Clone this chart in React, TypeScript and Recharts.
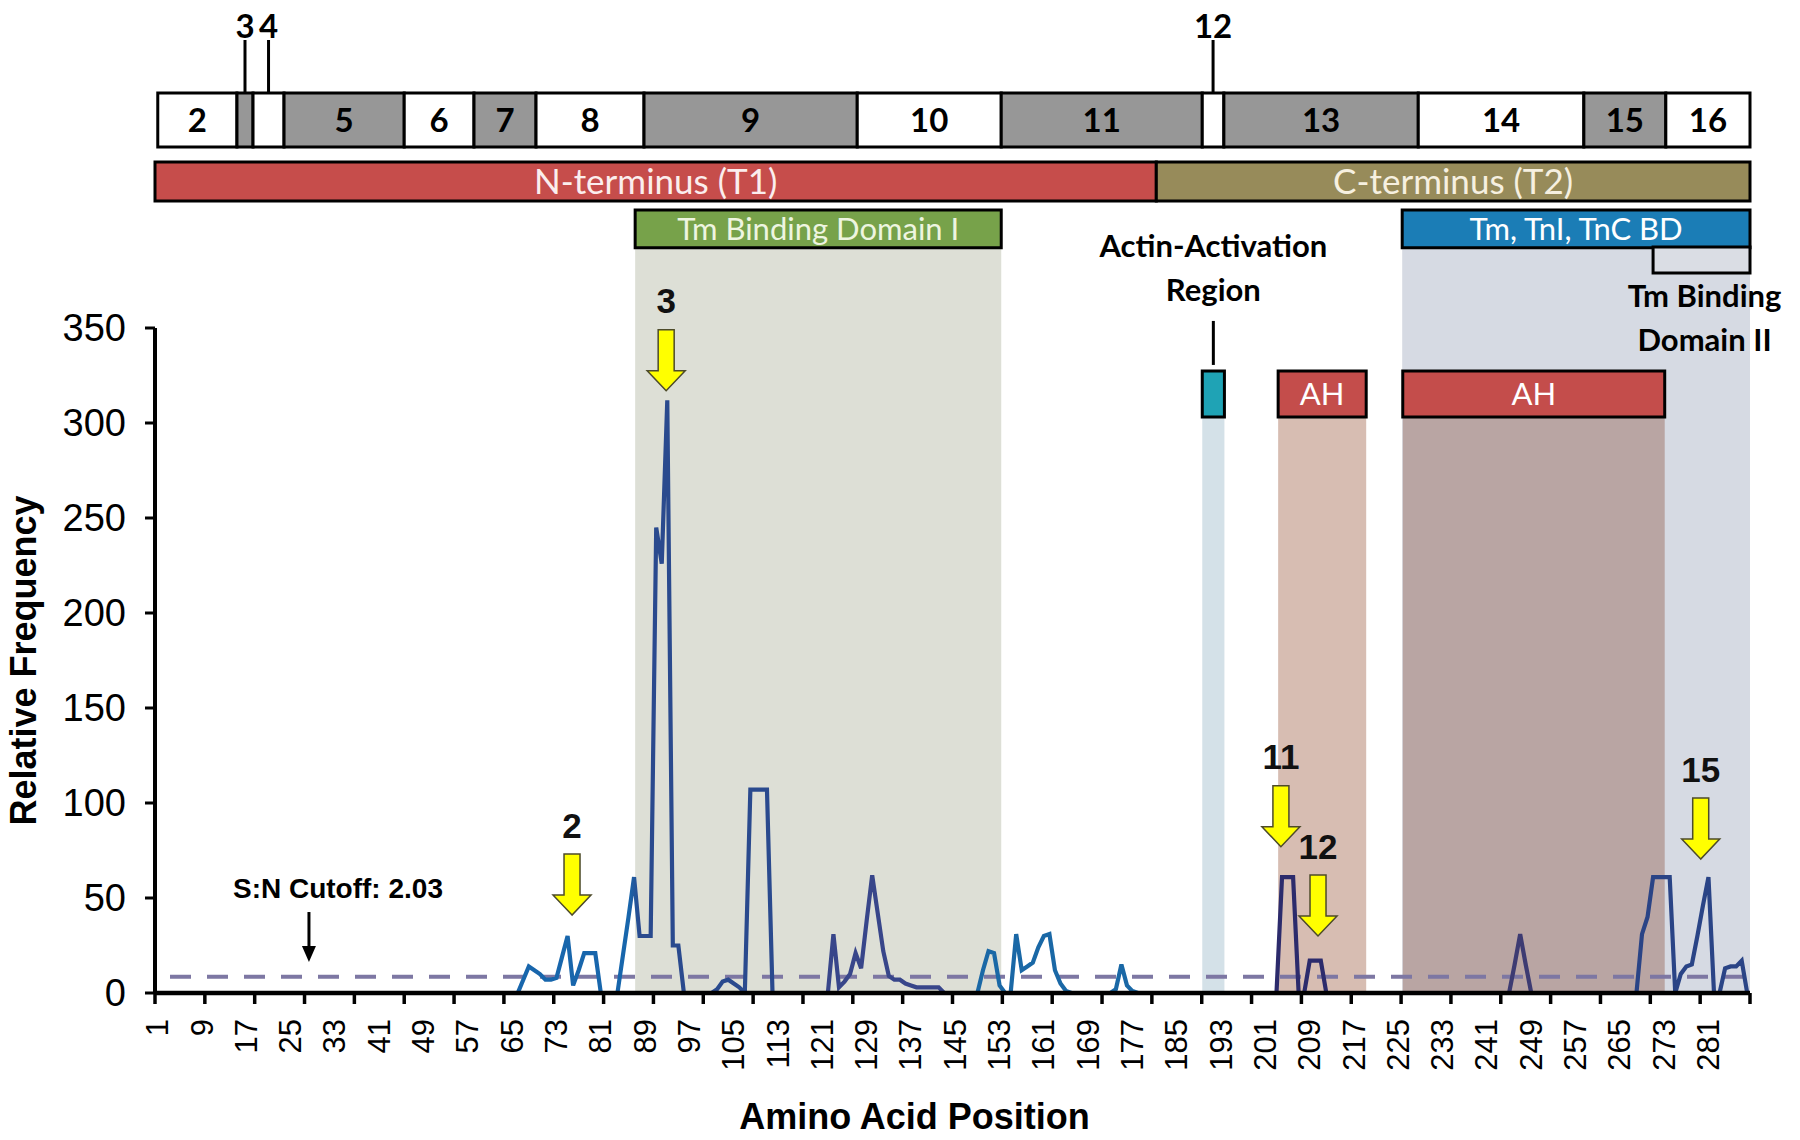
import React from 'react';
import { LineChart, Line, XAxis, YAxis, ReferenceArea, ReferenceLine, ReferenceDot } from 'recharts';

// residue positions 1..288 (x categories)
const positions = Array.from({ length: 288 }, (_, k) => k + 1);

// non-zero stretches of the trace: first residue and the values
const runStarts = [66, 84, 101, 122, 149, 173, 203, 245, 268];
const runValues = [
  [0, 7, 14, 12, 10, 7, 7, 8, 19, 30, 4, 12, 21, 21, 21, 0],
  [0, 20, 40, 61, 30, 30, 30, 245, 226, 312, 25, 25, 0],
  [0, 2, 6, 7, 5, 3, 0, 107, 107, 107, 107, 0],
  [0, 31, 3, 6, 10, 21, 13, 38, 62, 42, 22, 9, 7, 7, 5, 4, 3, 3, 3, 3, 3, 0],
  [0, 12, 22, 21, 4, 0, 0, 31, 12, 14, 16, 24, 30, 31, 12, 5, 1, 0],
  [0, 2, 15, 4, 1, 0],
  [0, 61, 61, 61, 0, 0, 17, 17, 17, 0],
  [0, 15, 31, 15, 0],
  [0, 31, 40, 61, 61, 61, 61, 0, 10, 14, 15, 30, 46, 61, 0, 0, 13, 14, 14, 17, 0],
];

const xTickLabels = [1, 9, 17, 25, 33, 41, 49, 57, 65, 73, 81, 89, 97, 105, 113, 121, 129, 137, 145, 153,
  161, 169, 177, 185, 193, 201, 209, 217, 225, 233, 241, 249, 257, 265, 273, 281];
const yTicks = [0, 50, 100, 150, 200, 250, 300, 350];
const cutoffValue = 8.6;

// exon map (residue ranges)
const exonNames = ['2', '3', '4', '5', '6', '7', '8', '9', '10', '11', '12', '13', '14', '15', '16'];
const exonFrom = [1, 15.3, 18.2, 23.8, 45.5, 58.1, 69.3, 88.8, 127.3, 153.3, 189.6, 193.5, 228.6, 258.5, 273.3];
const exonTo = [15.3, 18.2, 23.8, 45.5, 58.1, 69.3, 88.8, 127.3, 153.3, 189.6, 193.5, 228.6, 258.5, 273.3, 288.5];
const exonGrey = [false, true, false, true, false, true, false, true, false, true, false, true, false, true, false];
const exonCallouts = ['3', '4', '12'];

const terminusNames = ['N-terminus (T1)', 'C-terminus (T2)'];
const terminusFrom = [0.5, 181.3];
const terminusTo = [181.3, 288.5];

const domainNames = ['Tm Binding Domain I', 'Tm, TnI, TnC BD'];
const domainFrom = [87.2, 225.7];
const domainTo = [153.3, 288.5];

const tbd2Range = [271, 288.5];
const actinRange = [189.6, 193.6];
const helixFrom = [203.3, 225.8];
const helixTo = [219.2, 273.1];

const hotspotNames = ['2', '3', '11', '12', '15'];
const hotspotResidue = [75.8, 92.8, 203.8, 210.5, 279.6];
const hotspotTip = [41, 317, 77, 30, 70.5];

const cutoffArrow = { residue: 28.3, tip: 16.3 };

// trace colour changes along the sequence
const traceColourAt = [1, 86, 88, 118, 120, 146, 147, 188, 200, 232, 240, 256, 264, 288];
const traceColours = ['#1866ac', '#1866ac', '#2a4a8e', '#2a4a8e', '#38468a', '#38468a', '#1a68a6', '#1a68a6',
  '#2c2b6c', '#2c2b6c', '#3d3b72', '#3d3b72', '#2a4486', '#2a4486'];

const rows = positions.map(p => ({ pos: p, freq: 0 }));
runStarts.forEach((s, k) => {
  runValues[k].forEach((v, j) => { rows[s + j - 1].freq = v; });
});

const markTicks = Array.from({ length: 33 }, (_, k) => 0.5 + 9 * k);

const AX = "'Liberation Sans', Arial, sans-serif";
const CAL = "Lato, 'Open Sans', sans-serif";

// vertical rows of the annotation tracks, in y-axis units
const EXON = [445.3, 473.7];
const TERM = [416.8, 437.4];
const DOM = [392.3, 412.1];
const TBD2 = [378.9, 392.6];
const HELIX = [303.2, 327.4];

const NoTick = () => <g />;

const ResidueTick = (props: any) => {
  const { x, y, payload } = props;
  return (
    <text transform={`translate(${x},${y + 14}) rotate(-90)`} textAnchor="end" dominantBaseline="central"
      fontSize={31} fontFamily={AX} fill="#000">{payload.value}</text>
  );
};

const HotspotArrow = (props: any) => {
  const { cx, cy, name } = props;
  const pts = [
    [cx, cy], [cx - 19, cy - 20], [cx - 8, cy - 20], [cx - 8, cy - 61],
    [cx + 8, cy - 61], [cx + 8, cy - 20], [cx + 19, cy - 20],
  ].map(p => p.join(',')).join(' ');
  return (
    <g>
      <polygon points={pts} fill="#ffff00" stroke="#4d4b2a" strokeWidth={1.5} />
      <text x={cx} y={cy - 90} textAnchor="middle" dominantBaseline="central" fontSize={35}
        fontWeight="bold" fontFamily={AX} fill="#111">{name}</text>
    </g>
  );
};

const ExonCallout = (props: any) => {
  const { cx, cy, name } = props;
  return (
    <g>
      <line x1={cx} y1={cy} x2={cx} y2={cy - 53} stroke="#000" strokeWidth={3} />
      <text x={cx} y={cy - 68} textAnchor="middle" dominantBaseline="central" fontSize={33}
        fontWeight="bold" fontFamily={CAL} fill="#000">{name}</text>
    </g>
  );
};

const ActinCallout = (props: any) => {
  const { cx, cy } = props;
  return (
    <g>
      <line x1={cx} y1={cy - 6} x2={cx} y2={cy - 50} stroke="#000" strokeWidth={3} />
      <text x={cx} y={cy - 126} textAnchor="middle" dominantBaseline="central" fontSize={31}
        fontWeight="bold" fontFamily={CAL} fill="#000">Actin-Activation</text>
      <text x={cx} y={cy - 82} textAnchor="middle" dominantBaseline="central" fontSize={31}
        fontWeight="bold" fontFamily={CAL} fill="#000">Region</text>
    </g>
  );
};

const Tbd2Caption = (props: any) => {
  const { cx, cy } = props;
  return (
    <g>
      <text x={cx + 3} y={cy + 22} textAnchor="middle" dominantBaseline="central" fontSize={31}
        fontWeight="bold" fontFamily={CAL} fill="#000">Tm Binding</text>
      <text x={cx + 3} y={cy + 66} textAnchor="middle" dominantBaseline="central" fontSize={31}
        fontWeight="bold" fontFamily={CAL} fill="#000">Domain II</text>
    </g>
  );
};

const CutoffNote = (props: any) => {
  const { cx, cy } = props;
  return (
    <g>
      <line x1={cx} y1={cy - 50} x2={cx} y2={cy - 12} stroke="#000" strokeWidth={3} />
      <polygon points={`${cx - 7},${cy - 16} ${cx + 7},${cy - 16} ${cx},${cy}`} fill="#000" />
      <text x={cx + 29} y={cy - 74} textAnchor="middle" dominantBaseline="central" fontSize={28}
        fontWeight="bold" fontFamily={AX} fill="#000">S:N Cutoff: 2.03</text>
    </g>
  );
};

export default function App() {
  return (
    <div style={{ position: 'absolute', left: 0, top: 0, width: 1800, height: 1140, background: '#fff' }}>
      <LineChart width={1800} height={1140} data={rows} margin={{ top: 328, right: 50, left: 15, bottom: 25 }}>
        <defs>
          <linearGradient id="trace" x1="0" y1="0" x2="1" y2="0">
            {traceColourAt.map((r, k) => (
              <stop key={k} offset={(r - 1) / 287} stopColor={traceColours[k]} />
            ))}
          </linearGradient>
        </defs>

        {/* axis line + tick marks every 9 residues */}
        <XAxis xAxisId="a_marks" type="number" dataKey="pos" domain={[0.5, 288.5]} ticks={markTicks} interval={0}
          allowDataOverflow height={12} tickSize={11} tick={<NoTick />}
          axisLine={{ stroke: '#000', strokeWidth: 4 }} tickLine={{ stroke: '#000', strokeWidth: 3.5 }} />
        {/* rotated residue labels every 8 residues */}
        <XAxis xAxisId="b_res" type="number" dataKey="pos" domain={[0.5, 288.5]} ticks={xTickLabels} interval={0}
          allowDataOverflow height={110} tickSize={0} tickMargin={0} axisLine={false} tickLine={false}
          tick={<ResidueTick />}
          label={{
            content: (p: any) => {
              const vb = p.viewBox;
              return (
                <text x={vb.x + vb.width / 2 - 38} y={vb.y + 111} textAnchor="middle" dominantBaseline="central"
                  fontSize={36} fontWeight="bold" fontFamily={AX} fill="#000">Amino Acid Position</text>
              );
            },
          }} />
        <YAxis domain={[0, 350]} ticks={yTicks} interval={0} allowDataOverflow width={140} tickSize={10}
          tickMargin={19} tick={{ fontSize: 38, fill: '#000', fontFamily: AX }}
          axisLine={{ stroke: '#000', strokeWidth: 4 }} tickLine={{ stroke: '#000', strokeWidth: 3 }}
          label={{
            content: (p: any) => {
              const vb = p.viewBox;
              const cx = vb.x + 8;
              const cy = vb.y + vb.height / 2;
              return (
                <text transform={`translate(${cx},${cy}) rotate(-90)`} textAnchor="middle" dominantBaseline="central"
                  fontSize={36} fontWeight="bold" fontFamily={AX} fill="#000">Relative Frequency</text>
              );
            },
          }} />

        {/* shaded domain columns */}
        <ReferenceArea xAxisId="b_res" x1={domainFrom[1]} x2={domainTo[1]} y1={0} y2={DOM[0]} fill="#d6dae3"
          fillOpacity={1} stroke="none" ifOverflow="visible" />
        <ReferenceArea xAxisId="b_res" x1={domainFrom[0]} x2={domainTo[0]} y1={0} y2={DOM[0]} fill="#dddfd6"
          fillOpacity={1} stroke="none" ifOverflow="visible" />
        <ReferenceArea xAxisId="b_res" x1={actinRange[0]} x2={actinRange[1]} y1={0} y2={HELIX[0]} fill="#d4e1e8"
          fillOpacity={1} stroke="none" ifOverflow="visible" />
        <ReferenceArea xAxisId="b_res" x1={helixFrom[0]} x2={helixTo[0]} y1={0} y2={HELIX[0]} fill="#d7bdb2"
          fillOpacity={1} stroke="none" ifOverflow="visible" />
        <ReferenceArea xAxisId="b_res" x1={helixFrom[1]} x2={helixTo[1]} y1={0} y2={HELIX[0]} fill="#b9a5a3"
          fillOpacity={1} stroke="none" ifOverflow="visible" />

        {/* exon map */}
        {exonNames.map((n, k) => (
          <ReferenceArea key={`ex${k}`} xAxisId="b_res" x1={exonFrom[k]} x2={exonTo[k]} y1={EXON[0]} y2={EXON[1]}
            fill={exonGrey[k] ? '#979797' : '#ffffff'} fillOpacity={1} stroke="#000" strokeWidth={3}
            ifOverflow="visible"
            label={exonCallouts.includes(n) ? undefined : {
              value: n, position: 'center', fontSize: 33, fontWeight: 'bold', fontFamily: CAL, fill: '#000',
            }} />
        ))}
        {exonNames.map((n, k) => exonCallouts.includes(n) ? (
          <ReferenceDot key={`co${k}`} xAxisId="b_res" x={(exonFrom[k] + exonTo[k]) / 2} y={EXON[1]} ifOverflow="visible"
            shape={(p: any) => <ExonCallout cx={p.cx} cy={p.cy} name={n} />} />
        ) : null)}

        {/* N / C terminus */}
        {terminusNames.map((n, k) => (
          <ReferenceArea key={`tm${k}`} xAxisId="b_res" x1={terminusFrom[k]} x2={terminusTo[k]} y1={TERM[0]} y2={TERM[1]}
            fill={k === 0 ? '#c64d4b' : '#978b5a'} fillOpacity={1} stroke="#000" strokeWidth={3}
            ifOverflow="visible"
            label={{ value: n, position: 'center', fontSize: 35, fontFamily: CAL, fill: k === 0 ? '#fbeeee' : '#f6f0e0' }} />
        ))}

        {/* binding domains */}
        {domainNames.map((n, k) => (
          <ReferenceArea key={`dm${k}`} xAxisId="b_res" x1={domainFrom[k]} x2={domainTo[k]} y1={DOM[0]} y2={DOM[1]}
            fill={k === 0 ? '#77a24a' : '#1b7db6'} fillOpacity={1} stroke="#000" strokeWidth={3}
            ifOverflow="visible"
            label={{ value: n, position: 'center', fontSize: 31, fontFamily: CAL, fill: k === 0 ? '#eef5e0' : '#ffffff' }} />
        ))}
        <ReferenceArea xAxisId="b_res" x1={tbd2Range[0]} x2={tbd2Range[1]} y1={TBD2[0]} y2={TBD2[1]} fill="#dadde4"
          fillOpacity={1} stroke="#000" strokeWidth={3} ifOverflow="visible" />
        <ReferenceDot xAxisId="b_res" x={(tbd2Range[0] + tbd2Range[1]) / 2} y={TBD2[0]} ifOverflow="visible"
          shape={(p: any) => <Tbd2Caption cx={p.cx} cy={p.cy} />} />

        {/* actin activation + amphipathic helices */}
        <ReferenceArea xAxisId="b_res" x1={actinRange[0]} x2={actinRange[1]} y1={HELIX[0]} y2={HELIX[1]} fill="#1fa3b5"
          fillOpacity={1} stroke="#000" strokeWidth={3} ifOverflow="visible" />
        <ReferenceDot xAxisId="b_res" x={(actinRange[0] + actinRange[1]) / 2} y={HELIX[1]} ifOverflow="visible"
          shape={(p: any) => <ActinCallout cx={p.cx} cy={p.cy} />} />
        {helixFrom.map((f, k) => (
          <ReferenceArea key={`ah${k}`} xAxisId="b_res" x1={f} x2={helixTo[k]} y1={HELIX[0]} y2={HELIX[1]} fill="#c44d4b"
            fillOpacity={1} stroke="#000" strokeWidth={3} ifOverflow="visible"
            label={{ value: 'AH', position: 'center', fontSize: 31, fontFamily: CAL, fill: '#ffffff' }} />
        ))}

        <ReferenceLine xAxisId="b_res" y={cutoffValue} stroke="#7d77a3" strokeWidth={4} strokeDasharray="21 16"
          strokeDashoffset={22} />

        <Line xAxisId="b_res" dataKey="freq" type="linear" stroke="url(#trace)" strokeWidth={4.2} dot={false}
          activeDot={false} isAnimationActive={false} />

        {/* baseline drawn over the zero stretches of the trace */}
        <ReferenceLine xAxisId="b_res" y={0} stroke="#000" strokeWidth={4.5} ifOverflow="visible" />

        {hotspotNames.map((n, k) => (
          <ReferenceDot key={`hs${k}`} xAxisId="b_res" x={hotspotResidue[k]} y={hotspotTip[k]} ifOverflow="visible"
            shape={(p: any) => <HotspotArrow cx={p.cx} cy={p.cy} name={n} />} />
        ))}
        <ReferenceDot xAxisId="b_res" x={cutoffArrow.residue} y={cutoffArrow.tip} ifOverflow="visible"
          shape={(p: any) => <CutoffNote cx={p.cx} cy={p.cy} />} />
      </LineChart>
    </div>
  );
}
